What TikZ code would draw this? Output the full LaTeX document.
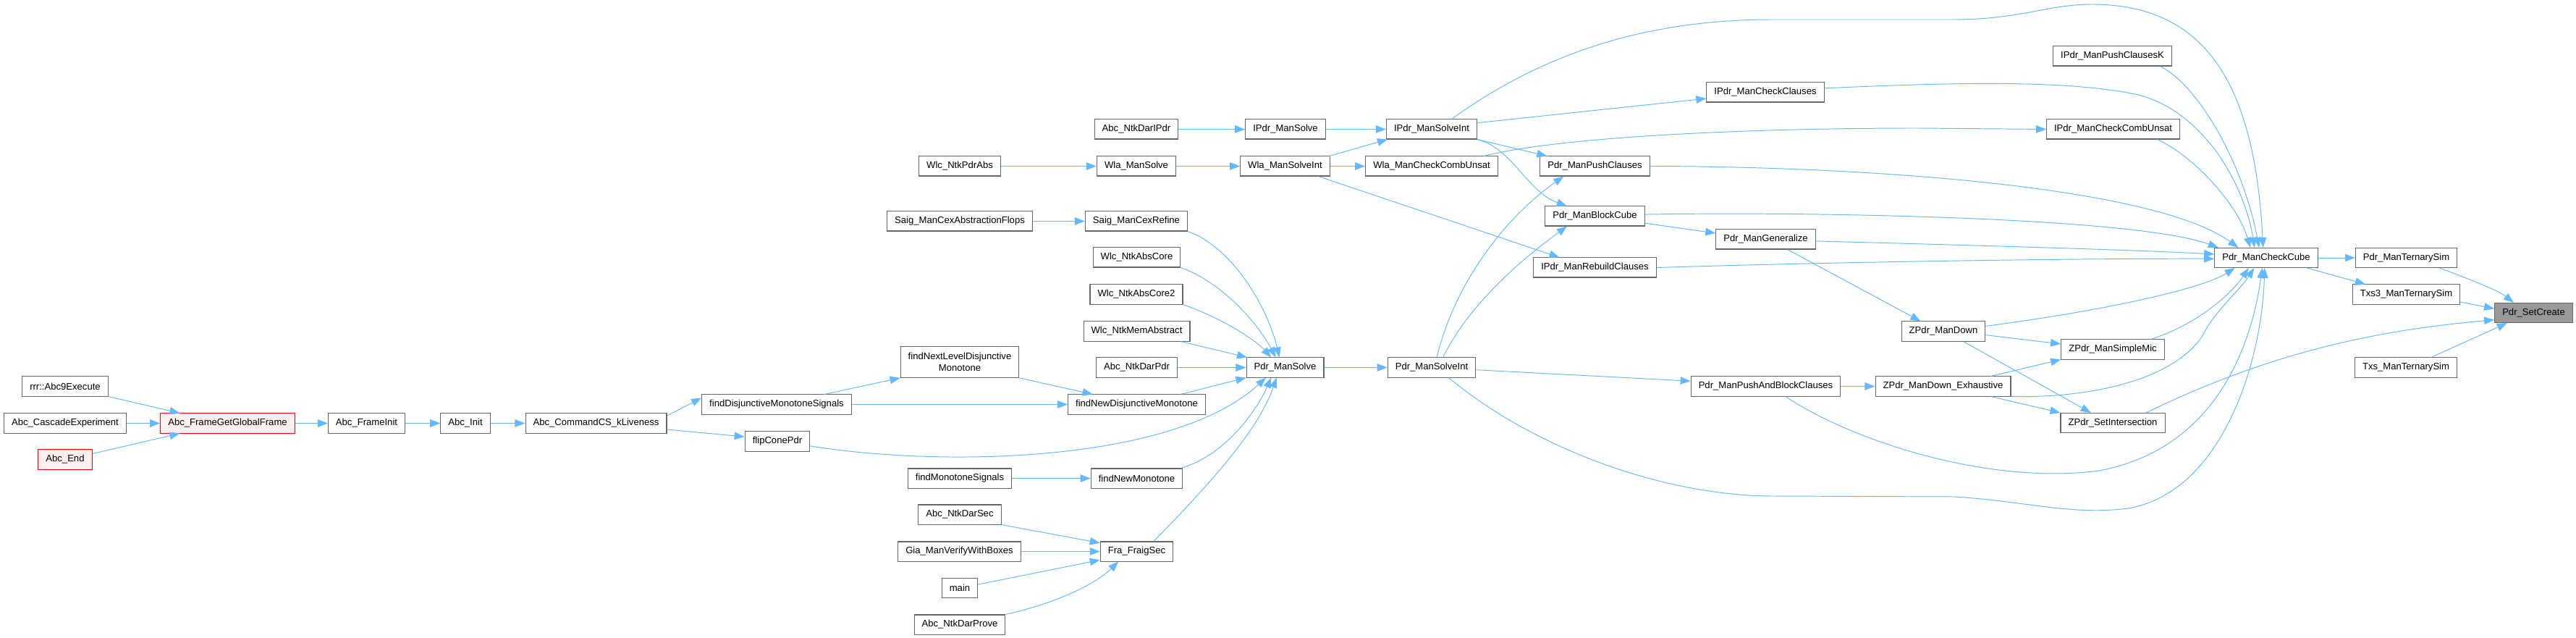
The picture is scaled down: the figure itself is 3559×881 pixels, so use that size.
\documentclass[tikz,border=0pt]{standalone}
\usepackage{fontspec}
\setmainfont{Liberation Sans}
\usepackage{tikz}
\usetikzlibrary{arrows.meta}
\definecolor{edgeblue}{HTML}{63B8FF}
\definecolor{boxgray}{HTML}{666666}
\definecolor{callred}{HTML}{FF0000}
\definecolor{callpink}{HTML}{FFF0F0}
\definecolor{rootgray}{HTML}{999999}

\begin{document}
\begin{tikzpicture}[
    x=0.02cm, y=-0.02cm,
    fn/.style={draw=boxgray, fill=white, line width=0.6pt, inner xsep=6pt, inner ysep=0pt, minimum height=15.4pt, align=center, font=\fontsize{7.45}{9.1}\selectfont},
    redfn/.style={fn, draw=callred, fill=callpink},
    rootfn/.style={fn, fill=rootgray},
    arrow/.style={-{Triangle[length=8pt, width=6pt]}, draw=edgeblue, line width=0.55pt}
]
\useasboundingbox (0,0) rectangle (3559,881);

\node[fn] (abc9) at (90,533.5) {rrr::Abc9Execute};
\node[fn] (cascade) at (90,584.5) {Abc\_CascadeExperiment};
\node[redfn] (abcend) at (90,634.5) {Abc\_End};
\node[redfn] (globalframe) at (314.5,584.5) {Abc\_FrameGetGlobalFrame};
\node[fn] (frameinit) at (506.5,584.5) {Abc\_FrameInit};
\node[fn] (abcinit) at (643,584.5) {Abc\_Init};
\node[fn] (kliveness) at (823.5,584.5) {Abc\_CommandCS\_kLiveness};
\node[fn] (finddisj) at (1073,558.5) {findDisjunctiveMonotoneSignals};
\node[fn] (flipcone) at (1074,609.5) {flipConePdr};
\node[fn, minimum height=24.3pt] (nextlevel) at (1326,500) {findNextLevelDisjunctive\\Monotone};
\node[fn] (wlcpdrabs) at (1326,229.5) {Wlc\_NtkPdrAbs};
\node[fn] (cexflops) at (1326,305.5) {Saig\_ManCexAbstractionFlops};
\node[fn] (monosignals) at (1326,660.5) {findMonotoneSignals};
\node[fn] (darsec) at (1326,710.5) {Abc\_NtkDarSec};
\node[fn] (verifyboxes) at (1325.5,761.5) {Gia\_ManVerifyWithBoxes};
\node[fn] (main) at (1326,812) {main};
\node[fn] (darprove) at (1326,862.5) {Abc\_NtkDarProve};
\node[fn] (daripdr) at (1570,178.5) {Abc\_NtkDarIPdr};
\node[fn] (wlasolve) at (1570,229.5) {Wla\_ManSolve};
\node[fn] (cexrefine) at (1570,305.5) {Saig\_ManCexRefine};
\node[fn] (abscore) at (1570.5,355.5) {Wlc\_NtkAbsCore};
\node[fn] (abscore2) at (1570,406.5) {Wlc\_NtkAbsCore2};
\node[fn] (memabstract) at (1570.5,457.5) {Wlc\_NtkMemAbstract};
\node[fn] (darpdr) at (1570.5,507.5) {Abc\_NtkDarPdr};
\node[fn] (newdisj) at (1570.5,558.5) {findNewDisjunctiveMonotone};
\node[fn] (newmono) at (1570.5,660.5) {findNewMonotone};
\node[fn] (fraigsec) at (1570.5,761.5) {Fra\_FraigSec};
\node[fn] (ipdrsolve) at (1776,178.5) {IPdr\_ManSolve};
\node[fn] (wlasolveint) at (1775.5,229.5) {Wla\_ManSolveInt};
\node[fn] (pdrsolve) at (1775.5,507.5) {Pdr\_ManSolve};
\node[fn] (ipdrsolveint) at (1978,178.5) {IPdr\_ManSolveInt};
\node[fn] (wlacombunsat) at (1978,229.5) {Wla\_ManCheckCombUnsat};
\node[fn] (pdrsolveint) at (1978,507.5) {Pdr\_ManSolveInt};
\node[fn] (pushclauses) at (2203.5,229.5) {Pdr\_ManPushClauses};
\node[fn] (blockcube) at (2203.5,298.5) {Pdr\_ManBlockCube};
\node[fn] (rebuild) at (2203.5,369.5) {IPdr\_ManRebuildClauses};
\node[fn] (checkclauses) at (2439,127.5) {IPdr\_ManCheckClauses};
\node[fn] (generalize) at (2439.5,330.5) {Pdr\_ManGeneralize};
\node[fn] (pushblock) at (2439.5,533.5) {Pdr\_ManPushAndBlockClauses};
\node[fn] (zdown) at (2685,457.5) {ZPdr\_ManDown};
\node[fn] (zexhaustive) at (2684.5,533.5) {ZPdr\_ManDown\_Exhaustive};
\node[fn] (pushclausesk) at (2918.5,77.5) {IPdr\_ManPushClausesK};
\node[fn] (ipdrcombunsat) at (2919.5,178.5) {IPdr\_ManCheckCombUnsat};
\node[fn] (simplemic) at (2919,482.5) {ZPdr\_ManSimpleMic};
\node[fn] (setinter) at (2919,584) {ZPdr\_SetIntersection};
\node[fn] (checkcube) at (3131,356) {Pdr\_ManCheckCube};
\node[fn] (ternarysim) at (3324.5,356) {Pdr\_ManTernarySim};
\node[fn] (txs3) at (3324.5,406.5) {Txs3\_ManTernarySim};
\node[fn] (txs) at (3324,507.5) {Txs\_ManTernarySim};
\node[rootfn] (setcreate) at (3500.5,432) {Pdr\_SetCreate};

\draw[arrow] (abc9.south east) -- (globalframe.168);
\draw[arrow] (cascade) -- (globalframe);
\draw[arrow] (abcend.12) -- (globalframe.-168);
\draw[arrow] (globalframe) -- (frameinit);
\draw[arrow] (frameinit) -- (abcinit);
\draw[arrow] (abcinit) -- (kliveness);
\draw[arrow] (kliveness.6) -- (finddisj.175);
\draw[arrow] (kliveness.-5) -- (flipcone.172);
\draw[arrow] (finddisj.12) -- (nextlevel.south west);
\draw[arrow] (finddisj) -- (newdisj);
\draw[arrow] (nextlevel.south east) -- (newdisj.167);
\draw[arrow] (newdisj.13) -- (pdrsolve.south west);
\draw[arrow] (flipcone.-8) .. controls (1300,645) and (1620,640) .. (pdrsolve.-152);

\draw[arrow] (cexflops) -- (cexrefine);
\draw[arrow] (cexrefine.south east) .. controls (1700,340) and (1750,420) .. (pdrsolve.119);
\draw[arrow] (abscore.south east) .. controls (1690,390) and (1740,450) .. (pdrsolve.133);
\draw[arrow] (abscore2.south east) .. controls (1690,440) and (1735,470) .. (pdrsolve.144);
\draw[arrow] (memabstract.-13) -- (pdrsolve.165);
\draw[arrow] (darpdr) -- (pdrsolve);
\draw[arrow] (monosignals) -- (newmono);
\draw[arrow] (newmono.13) .. controls (1690,630) and (1735,570) .. (pdrsolve.-144);
\draw[arrow] (darsec.south east) -- (fraigsec.167);
\draw[arrow] (verifyboxes) -- (fraigsec);
\draw[arrow] (main.11) -- (fraigsec.-167);
\draw[arrow] (darprove.north east) .. controls (1450,835) and (1510,810) .. (fraigsec.-151);
\draw[arrow] (fraigsec.31) .. controls (1680,660) and (1740,590) .. (pdrsolve.-130);

\draw[arrow] (daripdr) -- (ipdrsolve);
\draw[arrow] (ipdrsolve) -- (ipdrsolveint);
\draw[arrow] (wlcpdrabs) -- (wlasolve);
\draw[arrow] (wlasolve) -- (wlasolveint);
\draw[arrow] (wlasolveint.13) -- (ipdrsolveint.-167);
\draw[arrow] (wlasolveint) -- (wlacombunsat);
\draw[arrow] (wlasolveint.-17) -- (rebuild.164);
\draw[arrow] (pdrsolve) -- (pdrsolveint);

\draw[arrow] (ipdrsolveint.8) -- (checkclauses.-174);
\draw[arrow] (ipdrsolveint.south east) -- (pushclauses.168);
\draw[arrow] (ipdrsolveint.south east) .. controls (2090,205) and (2110,265) .. (blockcube.160);
\draw[arrow] (ipdrsolveint.27) .. controls (2150,60) and (2300,27) .. (2450,27) -- (2700,27) .. controls (2790,27) and (2830,6) .. (2890,6) .. controls (3050,6) and (3115,120) .. (checkcube.107);
\draw[arrow] (wlacombunsat.11) .. controls (2150,190) and (2400,177) .. (2650,177) -- (ipdrcombunsat.west);

\draw[arrow] (pdrsolveint.63) .. controls (2010,390) and (2080,300) .. (pushclauses.-162);
\draw[arrow] (pdrsolveint.42) .. controls (2030,420) and (2100,360) .. (blockcube.-160);
\draw[arrow] (pdrsolveint.-3) -- (pushblock.176);
\draw[arrow] (pdrsolveint.-31) .. controls (2120,620) and (2300,685) .. (2450,685) -- (2700,686) .. controls (2800,692) and (2860,712) .. (2940,702) .. controls (3070,680) and (3125,500) .. (checkcube.-99);

\draw[arrow] (blockcube.-8) -- (generalize.173);
\draw[arrow] (generalize.-25) -- (zdown.156);
\draw[arrow] (pushblock) -- (zexhaustive);
\draw[arrow] (zdown.-5) -- (simplemic.174);
\draw[arrow] (zdown.-27) -- (setinter.155);
\draw[arrow] (zexhaustive.12) -- (simplemic.south west);
\draw[arrow] (zexhaustive.-12) -- (setinter.north west);

\draw[arrow] (pushclausesk.-12) .. controls (3040,120) and (3100,230) .. (checkcube.125);
\draw[arrow] (checkclauses.4) .. controls (2700,114) and (2850,110) .. (2950,130) .. controls (3040,150) and (3100,250) .. (checkcube.139);
\draw[arrow] (ipdrcombunsat.-13) .. controls (3030,215) and (3090,280) .. (checkcube.147);
\draw[arrow] (pushclauses.east) .. controls (2600,230) and (2980,260) .. (checkcube.160);
\draw[arrow] (blockcube.2) .. controls (2500,292) and (2950,300) .. (checkcube.168);
\draw[arrow] (generalize.-2) .. controls (2700,338) and (2950,345) .. (checkcube.176);
\draw[arrow] (rebuild.east) .. controls (2600,360) and (2900,357) .. (checkcube.-179);
\draw[arrow] (zdown.7) .. controls (2900,430) and (3040,400) .. (checkcube.-162);
\draw[arrow] (simplemic.15) .. controls (3030,450) and (3080,410) .. (checkcube.-150);
\draw[arrow] (zexhaustive.south east) .. controls (2900,550) and (3010,520) .. (3045,460) .. controls (3060,430) and (3095,400) .. (checkcube.-140);
\draw[arrow] (pushblock.-27) .. controls (2560,610) and (2750,670) .. (2900,650) .. controls (3060,620) and (3110,480) .. (checkcube.-111);

\draw[arrow] (checkcube) -- (ternarysim);
\draw[arrow] (checkcube.-14) -- (txs3.166);
\draw[arrow] (ternarysim.-17) .. controls (3410,385) and (3450,400) .. (setcreate.153);
\draw[arrow] (txs3.-8) -- (setcreate.174);
\draw[arrow] (setinter.17) .. controls (3150,480) and (3300,455) .. (setcreate.-170);
\draw[arrow] (txs.22) -- (setcreate.-159);
\end{tikzpicture}
\end{document}
